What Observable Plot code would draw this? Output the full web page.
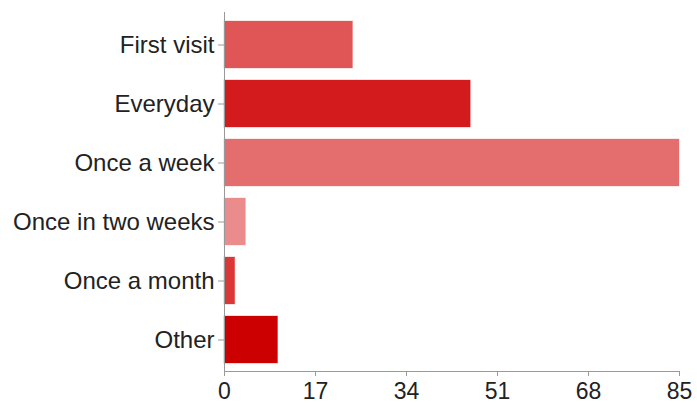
<!DOCTYPE html>
<html>
<head>
<meta charset="utf-8">
<script src="https://cdn.jsdelivr.net/npm/d3@7"></script>
<script src="https://cdn.jsdelivr.net/npm/@observablehq/plot@0.6"></script>
<style>
  html, body { margin: 0; padding: 0; background: #fff; }
  #chart svg { display: block; }
</style>
</head>
<body>
<div id="chart"></div>
<script>
const categories = ["First visit", "Everyday", "Once a week", "Once in two weeks", "Once a month", "Other"];
const values = [24, 46, 85, 4, 2, 10];
const colors = ["#e05555", "#d31b1d", "#e46e6e", "#ea8c8c", "#dc3737", "#cc0000"];
const xTicks = [0, 17, 34, 51, 68, 85];

const data = categories.map((c, i) => ({category: c, value: values[i], color: colors[i]}));

const chart = Plot.plot({
  width: 697,
  height: 403,
  marginLeft: 224,
  marginRight: 18,
  marginTop: 12,
  marginBottom: 32,
  style: {fontFamily: "'Liberation Sans', Arial, sans-serif", fontSize: "22px", color: "#222", background: "#fff"},
  x: {domain: [0, 85], ticks: xTicks},
  y: {domain: categories, paddingInner: 0.21, paddingOuter: 0.13},
  marks: [
    Plot.barX(data, {x: "value", y: "category", fill: "color", stroke: "color", strokeOpacity: 0.3, strokeWidth: 1}),
    Plot.frame({anchor: "left", stroke: "#999"}),
    Plot.frame({anchor: "bottom", stroke: "#999"}),
    Plot.axisX({ticks: xTicks, tickSize: 5, tickPadding: 6, label: null, stroke: "#999", fill: "#222", fontSize: 23}),
    Plot.axisY({tickSize: 6, tickPadding: 4, label: null, stroke: "#999", fill: "#222", fontSize: 24})
  ]
});
document.getElementById("chart").appendChild(chart);
</script>
</body>
</html>
